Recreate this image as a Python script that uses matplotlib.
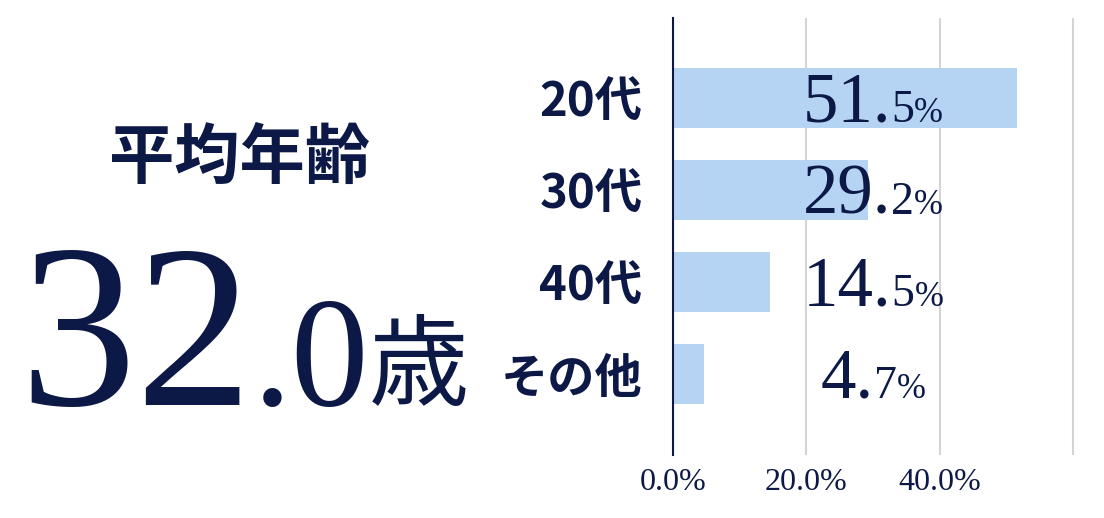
import matplotlib

matplotlib.use("Agg")
import matplotlib.pyplot as plt
from matplotlib import transforms

# data
categories = ["20代", "30代", "40代", "その他"]
shares = [51.5, 29.2, 14.5, 4.7]
xtick_vals = [0, 20, 40, 60]
xtick_labels = ["0.0%", "20.0%", "40.0%", ""]
avg_title = "平均年齢"
avg_age = 32.0
age_unit = "歳"

NAVY = "#0c1846"
BAR = "#b5d4f4"
GRID = "#d4d4d4"
SERIF = ["Liberation Serif", "DejaVu Serif"]
JP = ["Noto Sans CJK JP", "DejaVu Sans"]

W, H = 1104, 518
fig = plt.figure(figsize=(W / 100, H / 100), dpi=100)
ax = fig.add_axes([673 / W, 63 / H, 407 / W, 437 / H])

ypos = list(range(len(categories)))
ax.barh(ypos, shares, height=0.652, color=BAR, zorder=2)
ax.set_xlim(0, 61)
ax.set_ylim(3.88, -0.87)

ax.set_xticks(xtick_vals, labels=xtick_labels)
ax.set_yticks(ypos, labels=categories)
ax.tick_params(axis="x", length=0, pad=9, labelsize=23, labelcolor=NAVY)
ax.tick_params(axis="y", length=0, pad=22, labelsize=34, labelcolor=NAVY)
plt.setp(ax.get_xticklabels(), family=SERIF)
plt.setp(ax.get_yticklabels(), family=JP, weight="bold")

ax.grid(axis="x", color=GRID, linewidth=1.5, zorder=0)
ax.set_axisbelow(True)
for side in ["top", "right", "bottom"]:
    ax.spines[side].set_visible(False)
ax.spines["left"].set_color(NAVY)
ax.spines["left"].set_linewidth(1.5)
ax.spines["left"].set_zorder(5)

renderer = fig.canvas.get_renderer()


def rich_text(x, y, parts, base, dy=0.0):
    # parts: (text, size, family, weight, rise in px); centred on x, baseline at y
    placed = []
    width = 0.0
    for s, size, family, weight, rise in parts:
        t = fig.text(x, y, s, fontsize=size, family=family, weight=weight,
                     color=NAVY, ha="left", va="baseline", transform=base)
        w = t.get_window_extent(renderer).width
        placed.append((t, width, rise))
        width += w
    for t, off, rise in placed:
        t.set_transform(transforms.offset_copy(
            base, fig=fig, x=off - width / 2, y=dy + rise, units="dots"))


# value labels, centred at 30% of the axis
for i, v in enumerate(shares):
    whole, dec = f"{v:.1f}".split(".")
    rich_text(30, i, [
        (whole + ".", 51, SERIF, "normal", 0),
        (dec, 33, SERIF, "normal", 0),
        ("%", 25, SERIF, "normal", 0),
    ], ax.transData, dy=-23.5)

# left block
fig.text(239 / W, 1 - 158 / H, avg_title, fontsize=47, family=JP, weight="bold",
         color=NAVY, ha="center", va="center")
whole, dec = f"{avg_age:.1f}".split(".")
rich_text(244 / W, 1 - 405 / H, [
    (whole, 168, SERIF, "normal", 0),
    ("." + dec, 112, SERIF, "normal", 0),
    (age_unit, 72, JP, "normal", 7),
], fig.transFigure)

fig.savefig("out.png", dpi=100)
